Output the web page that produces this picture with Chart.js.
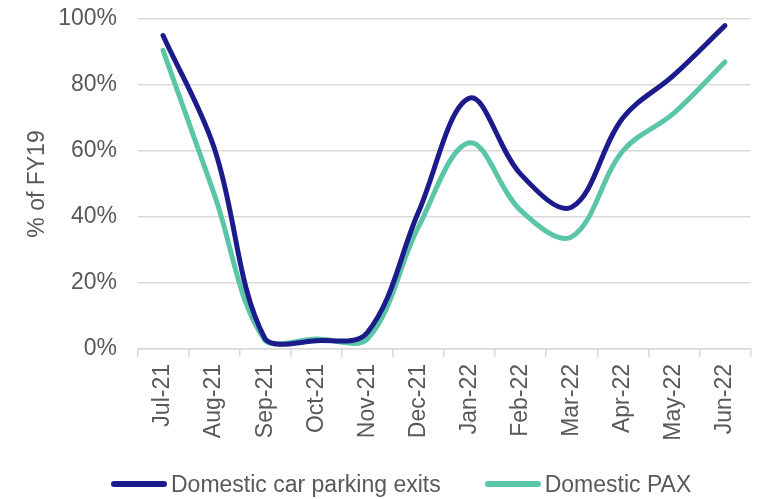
<!DOCTYPE html>
<html>
<head>
<meta charset="utf-8">
<script src="https://cdn.jsdelivr.net/npm/chart.js@4/dist/chart.umd.min.js"></script>
<style>
  html, body { margin: 0; padding: 0; background: #ffffff; }
  #wrap { width: 771px; height: 499px; position: relative; overflow: hidden; }
  #chart { position: absolute; left: 0; top: 0; }
  #legend {
    position: absolute; left: 111px; top: 470px; height: 28px;
    display: flex; align-items: center;
    font-family: 'Liberation Sans', Arial, sans-serif; font-size: 23px; color: #595959;
    white-space: nowrap;
  }
  #legend .item { display: flex; align-items: center; }
  #legend .item + .item { margin-left: 44px; }
  #legend .swatch { width: 56px; height: 6px; border-radius: 3px; margin-right: 4px; }
</style>
</head>
<body>
<div id="wrap">
  <canvas id="chart" width="771" height="499"></canvas>
  <div id="legend"></div>
</div>
<script>
// Monthly recovery against FY19 levels
const months = ['Jul-21', 'Aug-21', 'Sep-21', 'Oct-21', 'Nov-21', 'Dec-21',
                'Jan-22', 'Feb-22', 'Mar-22', 'Apr-22', 'May-22', 'Jun-22'];
const carParkingExits = [95, 61, 3, 2.5, 5, 41.5, 76, 53, 43, 70, 83, 98];
const domesticPax     = [90.5, 47, 2.5, 3, 3, 37, 62.5, 42, 34, 60, 71.5, 87];
const yTicks = [0, 20, 40, 60, 80, 100];
const seriesNames = ['Domestic car parking exits', 'Domestic PAX'];
const seriesColors = ['#1c1b8c', '#5bc5a7'];

const TEXT = '#595959';
const GRID = '#d9d9d9';
const FONT = "'Liberation Sans', Arial, sans-serif";

const lineStyle = {
  borderWidth: 5,
  tension: 0.36,
  pointRadius: 0,
  borderCapStyle: 'round',
  borderJoinStyle: 'round',
  clip: false
};

const chart = new Chart(document.getElementById('chart'), {
  type: 'line',
  data: {
    labels: months,
    datasets: [
      Object.assign({ label: seriesNames[0], data: carParkingExits,
        borderColor: seriesColors[0], backgroundColor: seriesColors[0] }, lineStyle),
      Object.assign({ label: seriesNames[1], data: domesticPax,
        borderColor: seriesColors[1], backgroundColor: seriesColors[1] }, lineStyle)
    ]
  },
  options: {
    responsive: false,
    animation: false,
    layout: { padding: { left: 24, right: 20.5, top: 19, bottom: 50 } },
    plugins: {
      tooltip: { enabled: false },
      legend: { display: false }
    },
    scales: {
      x: {
        offset: true,
        grid: {
          offset: true,
          drawOnChartArea: false,
          drawTicks: true,
          tickLength: 8,
          color: GRID,
          lineWidth: 1.5
        },
        border: { color: GRID, width: 1.5 },
        ticks: {
          color: TEXT,
          font: { family: FONT, size: 23 },
          maxRotation: 90,
          minRotation: 90,
          padding: 7,
          autoSkip: false
        },
        afterFit(scale) { scale.height = 100; }
      },
      y: {
        min: 0,
        max: 100,
        afterBuildTicks(scale) { scale.ticks = yTicks.map(v => ({ value: v })); },
        grid: { color: GRID, lineWidth: 1.5, drawTicks: false },
        border: { display: false },
        ticks: {
          color: TEXT,
          font: { family: FONT, size: 23 },
          padding: 20.5,
          callback: v => v + '%'
        },
        title: {
          display: true,
          text: '% of FY19',
          color: TEXT,
          font: { family: FONT, size: 23 },
          padding: { top: 0, bottom: 0 }
        },
        afterFit(scale) {
          scale.width = 113.5;
          // tick labels may overhang the plot; the layout padding already leaves room
          scale.paddingTop = 0;
          scale.paddingBottom = 0;
        }
      }
    }
  }
});

// Legend built from the chart's own datasets
const legend = document.getElementById('legend');
chart.data.datasets.forEach(ds => {
  const item = document.createElement('div');
  item.className = 'item';
  const sw = document.createElement('span');
  sw.className = 'swatch';
  sw.style.background = ds.borderColor;
  const tx = document.createElement('span');
  tx.textContent = ds.label;
  item.appendChild(sw);
  item.appendChild(tx);
  legend.appendChild(item);
});
</script>
</body>
</html>
